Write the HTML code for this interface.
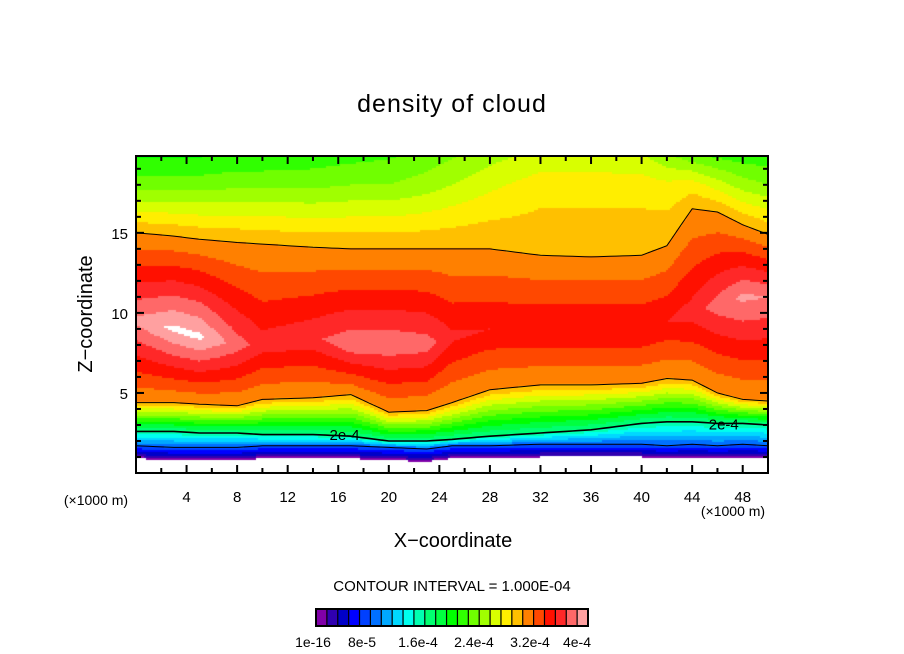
<!DOCTYPE html>
<html><head><meta charset="utf-8"><style>
body{margin:0;background:#fff;}
#wrap{position:relative;width:904px;height:654px;font-family:"Liberation Sans",sans-serif;}
canvas{position:absolute;left:136px;top:156px;}
svg{position:absolute;left:0;top:0;}
</style></head><body>
<div id="wrap">
<canvas id="cv" width="632" height="317"></canvas>
<svg id="sv" width="904" height="654"></svg>
</div>
<script>
// column data (x in km, heights in km, values in 1e-4)
const xs    = [0,3,5,8,10,14,17,20,23,25,28,32,36,40,42,44,46,48,50];
const zBot  = [0.9,0.8,0.8,0.8,0.9,0.9,0.9,0.8,0.7,0.9,0.9,1.0,1.0,1.0,0.9,1.0,0.9,1.0,0.9];
const z2e4  = [2.6,2.6,2.5,2.5,2.4,2.4,2.3,2.0,2.0,2.1,2.3,2.5,2.7,3.1,3.2,3.2,3.1,3.1,3.0];
const zLow  = [4.4,4.4,4.3,4.2,4.6,4.7,4.9,3.8,3.9,4.4,5.2,5.5,5.5,5.6,5.9,5.8,5.0,4.6,4.5];
const coreV = [4.85,5.05,5.05,4.7,4.5,4.55,4.75,4.75,4.7,4.45,4.4,4.4,4.4,4.4,4.4,4.5,4.7,4.85,4.8];
const coreZ = [9.5,9.0,8.5,8,8,8.5,8,8,8,8.5,9,9,9,9,9.5,10,10.5,11,11];
const zUp   = [15.0,14.8,14.6,14.4,14.3,14.1,14.0,14.0,14.0,14.0,14.0,13.6,13.5,13.6,14.2,16.5,16.3,15.5,14.9];
const v18   = [2.9,2.9,2.9,2.95,2.95,2.95,3.0,3.0,3.1,3.2,3.35,3.5,3.5,3.5,3.45,3.5,3.3,3.1,3.0];
const topV  = [2.55,2.55,2.55,2.6,2.6,2.65,2.7,2.75,2.85,2.95,3.1,3.25,3.25,3.2,3.0,2.8,2.7,2.65,2.65];
const xTicks = [4,8,12,16,20,24,28,32,36,40,44,48];
const yTicks = [5,10,15];
const colors = ["#8000a8","#3000b0","#0000c8","#0000ff","#0040ff","#0070ff","#00a8ff","#00d8ff","#00ffee","#00ffb0","#00ff70","#00ff40","#00ff00","#30ff00","#70ff00","#a0ff00","#d8ff00","#ffee00","#ffc000","#ff8000","#ff4800","#ff1000","#ff2828","#ff6868","#ffa0a0"];
const cbLabels = ["1e-16","8e-5","1.6e-4","2.4e-4","3.2e-4","4e-4"];
const cbLabelX = [313,362,418,474,530,577];
const CONT = 3.8;

const X0=136,X1=768,Y0=156,Y1=473;
const sx=x=>X0+(x/50)*(X1-X0);
const sz=z=>Y1-(z/19.8)*(Y1-Y0);
function lerpArr(arr,x){
  for(let i=0;i<xs.length-1;i++){ if(x<=xs[i+1]){const t=(x-xs[i])/(xs[i+1]-xs[i]);return arr[i]+(arr[i+1]-arr[i])*t;} }
  return arr[arr.length-1];
}
function value(x,z){
  const zb=lerpArr(zBot,x),z2=lerpArr(z2e4,x),zl=lerpArr(zLow,x),cv=lerpArr(coreV,x),cz=lerpArr(coreZ,x),zu=lerpArr(zUp,x),m=lerpArr(v18,x),tv=lerpArr(topV,x);
  const pts=[[zb,0.01],[zb+0.25,0.4],[zb+0.8,1.0],[z2,2.0],[zl,CONT],[cz,cv],[zu,CONT]];
  if(zu<17.5) pts.push([18,m]); else pts.push([Math.max(zu+0.8,18.5),m]);
  pts.push([20,tv]);
  if(z<zb) return -1;
  for(let i=0;i<pts.length-1;i++){ if(z<=pts[i+1][0]){const t=(z-pts[i][0])/(pts[i+1][0]-pts[i][0]);return pts[i][1]+(pts[i+1][1]-pts[i][1])*t;} }
  return tv;
}
const cv=document.getElementById('cv'),ctx=cv.getContext('2d');
const W=632,H=317,S=2;
for(let px=0;px<W;px+=S){
  const x=(px+S/2)/W*50;
  for(let py=0;py<H;py+=S){
    const z=(H-py-S/2)/H*19.8;
    const v=value(x,z);
    if(v<=0||v>=5) continue;
    ctx.fillStyle=colors[Math.min(24,Math.floor(v/0.2))];
    ctx.fillRect(px,py,S,S);
  }
}
const NS="http://www.w3.org/2000/svg",sv=document.getElementById('sv');
function el(t,a,txt){const e=document.createElementNS(NS,t);for(const k in a)e.setAttribute(k,a[k]);if(txt!==undefined)e.textContent=txt;sv.appendChild(e);return e;}
function line(arr,off,w,name){
  let d="";for(let x=0;x<=50;x+=0.5){d+=(x?"L":"M")+sx(x).toFixed(1)+","+sz(lerpArr(arr,x)+off).toFixed(1);}
  const p=el('path',{d:d,fill:"none",stroke:"#000","stroke-width":w});
  
  
}
line(zBot,0.8,1,"contour-1e-4");
line(z2e4,0,1.6,"contour-2e-4");
line(zLow,0,1,"contour-lower-4e-4");
line(zUp,0,1,"contour-upper-4e-4");
const l1=el('text',{x:sx(16.5),y:sz(2.2)+2,"font-size":15,"text-anchor":"middle"},"2e-4");


const l2=el('text',{x:sx(46.5),y:sz(3.1)+6,"font-size":15,"text-anchor":"middle"},"2e-4");


// frame
const fr=el('rect',{x:X0,y:Y0,width:X1-X0,height:Y1-Y0,fill:"none",stroke:"#000","stroke-width":2});


for(let x=2;x<50;x+=2){const L=(x%4==0)?8:5;el('line',{x1:sx(x),x2:sx(x),y1:Y1,y2:Y1-L,stroke:"#000","stroke-width":2});el('line',{x1:sx(x),x2:sx(x),y1:Y0,y2:Y0+L,stroke:"#000","stroke-width":2});}
for(let z=1;z<20;z++){const L=(z%5==0)?8:5;el('line',{x1:X0,x2:X0+L,y1:sz(z),y2:sz(z),stroke:"#000","stroke-width":2});el('line',{x1:X1,x2:X1-L,y1:sz(z),y2:sz(z),stroke:"#000","stroke-width":2});}
xTicks.forEach(v=>{const t=el('text',{x:sx(v),y:502,"font-size":15,"text-anchor":"middle"},String(v));});
yTicks.forEach(v=>{const t=el('text',{x:128,y:sz(v)+6,"font-size":15,"text-anchor":"end"},String(v));});
// colorbar
colors.forEach((c,i)=>{const r=el('rect',{x:316+i*10.88,y:609,width:10.88,height:17,fill:c});});
el('rect',{x:316,y:609,width:272,height:17,fill:"none",stroke:"#000","stroke-width":2});
for(let i=1;i<25;i++)el('line',{x1:316+i*10.88,x2:316+i*10.88,y1:609,y2:626,stroke:"#000","stroke-width":1.2});
cbLabels.forEach((s,i)=>{const t=el('text',{x:cbLabelX[i],y:647,"font-size":14,"text-anchor":"middle"},s);});
</script>
<svg width="904" height="654" style="position:absolute;left:0;top:0;pointer-events:none">
<text x="452" y="112" font-size="25" text-anchor="middle" font-family="Liberation Sans,sans-serif" letter-spacing="1">density of cloud</text>
<text x="453" y="547" font-size="20" text-anchor="middle" font-family="Liberation Sans,sans-serif">X−coordinate</text>
<text transform="translate(92,314) rotate(-90)" font-size="20" text-anchor="middle" font-family="Liberation Sans,sans-serif">Z−coordinate</text>
<text x="96" y="505" font-size="14" text-anchor="middle" font-family="Liberation Sans,sans-serif">(×1000 m)</text>
<text x="733" y="516" font-size="14" text-anchor="middle" font-family="Liberation Sans,sans-serif">(×1000 m)</text>
<text x="452" y="591" font-size="15" text-anchor="middle" font-family="Liberation Sans,sans-serif">CONTOUR INTERVAL = 1.000E-04</text>
</svg>
</body></html>
